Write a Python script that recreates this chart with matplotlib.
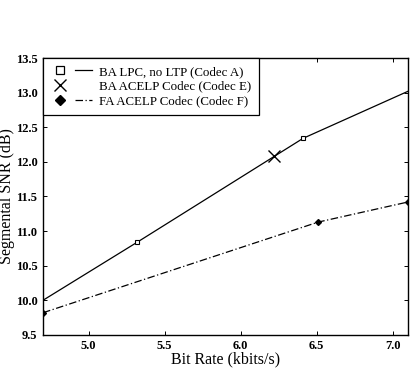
import matplotlib
matplotlib.use("Agg")
import matplotlib.pyplot as plt
from matplotlib.lines import Line2D
from matplotlib.legend_handler import HandlerTuple

# Data
a_rate = [4.70, 5.32, 6.41, 7.10]
a_snr = [10.00, 10.84, 12.34, 13.02]
a_mark_rate = [5.32, 6.41]
a_mark_snr = [10.84, 12.34]
e_rate = [6.22]
e_snr = [12.09]
f_rate = [4.70, 6.51, 7.10]
f_snr = [9.82, 11.13, 11.42]
f_mark_rate = [4.70, 6.51, 7.10]
f_mark_snr = [9.82, 11.13, 11.42]
labels = ["BA LPC, no LTP (Codec A)", "BA ACELP Codec (Codec E)", "FA ACELP Codec (Codec F)"]
xticks = [5.0, 5.5, 6.0, 6.5, 7.0]
yticks = [9.5, 10.0, 10.5, 11.0, 11.5, 12.0, 12.5, 13.0, 13.5]

plt.rcParams['font.family'] = ['Liberation Serif', 'DejaVu Serif']

fig = plt.figure(figsize=(4.18, 3.70), dpi=100)
ax = fig.add_axes([0.103, 0.095, 0.873, 0.748])

ax.plot(a_rate, a_snr, color='black', lw=0.9)
ax.plot(a_mark_rate, a_mark_snr, ls='none', marker='s', ms=3.5, mfc='white', mec='black', mew=0.8)
ax.plot(e_rate, e_snr, ls='none', marker='x', ms=9, color='black', mew=1.0)
ax.plot(f_rate, f_snr, color='black', lw=0.9, ls='-.', dashes=(6, 2, 1, 2))
ax.plot(f_mark_rate, f_mark_snr, ls='none', marker='D', ms=3, color='black')

ax.set_xlim(4.70, 7.10)
ax.set_ylim(9.5, 13.5)
ax.set_xticks(xticks)
ax.set_xticklabels([f"{v:.1f}" for v in xticks], fontsize=9, fontweight='bold')
ax.set_yticks(yticks)
ax.set_yticklabels([f"{v:.1f}" for v in yticks], fontsize=9, fontweight='bold')
ax.tick_params(direction='in', top=True, right=True, length=3, width=0.7, pad=4)
for s in ax.spines.values():
    s.set_linewidth(1.0)

ax.set_xlabel("Bit Rate (kbits/s)", fontsize=11.5, labelpad=-1)
ax.set_ylabel("Segmental SNR (dB)", fontsize=11.5)
ax.yaxis.set_label_coords(-0.078, 0.5)

mA = Line2D([], [], ls='none', marker='s', ms=6, mfc='white', mec='black', mew=0.9)
lA = Line2D([], [], color='black', lw=0.9)
mE = Line2D([], [], ls='none', marker='x', ms=8, color='black', mew=1.0)
lE = Line2D([], [], color='none', lw=0.9)
mF = Line2D([], [], ls='none', marker='D', ms=5, color='black')
lF = Line2D([], [], color='black', lw=0.9, dashes=(6, 2, 1, 2))

leg = ax.legend([(mA, lA), (mE, lE), (mF, lF)], labels,
                handler_map={tuple: HandlerTuple(ndivide=None, pad=0.5)},
                loc='upper left', bbox_to_anchor=(0.0, 1.0), fontsize=9.3,
                handlelength=3.2, handletextpad=0.5, labelspacing=0.22,
                borderpad=0.6, borderaxespad=0.0, fancybox=False,
                framealpha=1, edgecolor='black')
leg.get_frame().set_linewidth(0.9)

fig.savefig("out.png", dpi=100)
